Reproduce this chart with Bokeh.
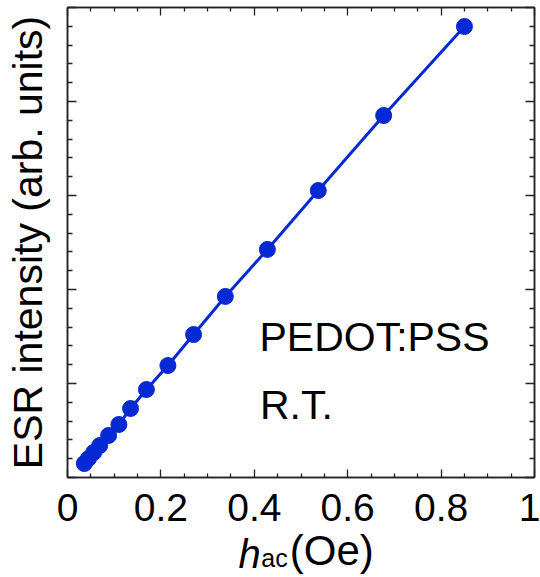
from bokeh.plotting import figure
from bokeh.models import Range1d, LinearAxis, FixedTicker, CustomJSTickFormatter
from bokeh.layouts import column
from bokeh.core.properties import value
from bokeh.embed import file_html
from bokeh.resources import INLINE

# ---- data ----
h_ac = [0.036, 0.045, 0.056, 0.069, 0.088, 0.110, 0.135, 0.169, 0.215,
        0.270, 0.338, 0.428, 0.537, 0.677, 0.850]
esr = [0.149, 0.202, 0.266, 0.340, 0.447, 0.564, 0.734, 0.936, 1.191,
       1.521, 1.926, 2.426, 3.053, 3.851, 4.798]

x_major_ticks = [0, 0.2, 0.4, 0.6, 0.8, 1]
x_tick_labels = ["0", "0.2", "0.4", "0.6", "0.8", "1"]
x_minor_ticks = [0.05, 0.1, 0.15, 0.25, 0.3, 0.35, 0.45, 0.5, 0.55,
                 0.65, 0.7, 0.75, 0.85, 0.9, 0.95]
y_major_ticks = [0, 1, 2, 3, 4, 5]
y_minor_ticks = [0.2, 0.4, 0.6, 0.8, 1.2, 1.4, 1.6, 1.8, 2.2, 2.4, 2.6, 2.8,
                 3.2, 3.4, 3.6, 3.8, 4.2, 4.4, 4.6, 4.8]

BLUE = "#0529d2"
FONT = "Liberation Sans"
AX = "#222222"
BL, BR = 67, 6          # left / right borders shared by both canvases

p = figure(width=540, height=530, output_backend="svg", toolbar_location=None,
           x_range=Range1d(0, 1), y_range=Range1d(0, 5),
           min_border_left=BL, min_border_right=BR, min_border_top=7,
           min_border_bottom=53, background_fill_color="white",
           border_fill_color="white")
p.grid.visible = False
p.outline_line_color = AX
p.outline_line_width = 1.5

xt = FixedTicker(ticks=x_major_ticks, minor_ticks=x_minor_ticks)
yt = FixedTicker(ticks=y_major_ticks, minor_ticks=y_minor_ticks)


def style_axis(ax, ticker, major_in, minor_in, labels=True):
    ax.ticker = ticker
    ax.axis_line_color = AX
    ax.axis_line_width = 1.5
    ax.major_tick_line_color = AX
    ax.minor_tick_line_color = AX
    ax.major_tick_line_width = 1.3
    ax.minor_tick_line_width = 1.3
    ax.major_tick_in = major_in
    ax.major_tick_out = 0
    ax.minor_tick_in = minor_in
    ax.minor_tick_out = 0
    if not labels:
        ax.formatter = CustomJSTickFormatter(code="return ''")
        ax.major_label_standoff = 0


xa = p.xaxis[0]
style_axis(xa, xt, 8, 4)
xa.major_label_overrides = dict(zip(x_major_ticks, x_tick_labels))
xa.major_label_text_font = FONT
xa.major_label_text_font_size = "39px"
xa.major_label_text_color = "black"
xa.major_label_standoff = 16

ya = p.yaxis[0]
style_axis(ya, yt, 9, 5, labels=False)
ya.axis_label = "ESR intensity (arb. units)"
ya.axis_label_text_font = FONT
ya.axis_label_text_font_size = "41px"
ya.axis_label_text_font_style = "normal"
ya.axis_label_text_color = "black"
ya.axis_label_standoff = 17

top = LinearAxis()
style_axis(top, xt, 8, 4, labels=False)
p.add_layout(top, "above")
right = LinearAxis()
style_axis(right, yt, 9, 5, labels=False)
p.add_layout(right, "right")

p.line(h_ac, esr, line_color=BLUE, line_width=3)
p.scatter(h_ac, esr, size=16, fill_color=BLUE, line_color=BLUE)

p.text(x=[0.411], y=[1.50], text=["PEDOT:PSS"], text_font=value(FONT),
       text_font_size="41px", text_color="black", text_baseline="alphabetic")
p.text(x=[0.412], y=[0.766], text=["R.T."], text_font=value(FONT),
       text_font_size="41px", text_color="black", text_baseline="alphabetic")

# x-axis title strip: italic h, smaller "ac", then (Oe)
q = figure(width=540, height=47, output_backend="svg", toolbar_location=None,
           x_range=Range1d(0, 1), y_range=Range1d(0, 1),
           min_border_left=BL, min_border_right=BR, min_border_top=0,
           min_border_bottom=0, outline_line_color=None,
           background_fill_color="white", border_fill_color="white")
q.axis.visible = False
q.grid.visible = False
q.text(x=[0.366], y=[0.506], text=["h"], text_font=value(FONT),
       text_font_style="italic", text_font_size="40px", text_color="black",
       text_baseline="alphabetic")
q.text(x=[0.415], y=[0.415], text=["ac"], text_font=value(FONT),
       text_font_size="25px", text_color="black", text_baseline="alphabetic")
q.text(x=[0.476], y=[0.568], text=["(Oe)"], text_font=value(FONT),
       text_font_size="42px", text_color="black", text_baseline="alphabetic")

layout = column(p, q, spacing=0)
open("out.html", "w").write(file_html(layout, INLINE))
